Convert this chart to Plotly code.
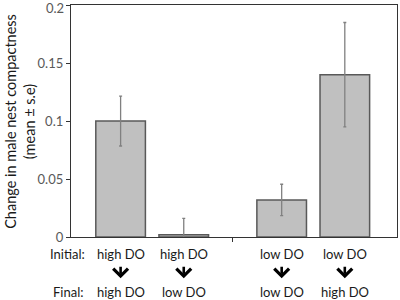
import plotly.graph_objects as go

# data
initial_labels = ["high DO", "high DO", "low DO", "low DO"]
final_labels = ["high DO", "low DO", "low DO", "high DO"]
means = [0.100, 0.002, 0.032, 0.140]
errors = [0.0215, 0.014, 0.0135, 0.045]
positions = [0.77, 1.75, 3.27, 4.25]   # group gap between 2nd and 3rd bar
gap_tick = [2.51]
y_ticks = [0, 0.05, 0.1, 0.15, 0.2]
y_ticktext = ["0", "0.05", "0.1", "0.15", "0.2"]

fig = go.Figure()
fig.add_trace(go.Bar(
    x=positions, y=means, width=0.77,
    marker=dict(color="#c0c0c0", line=dict(color="#595959", width=1.5)),
    error_y=dict(type="data", array=errors, visible=True, color="#808080",
                 thickness=1.3, width=1.5),
    hoverinfo="skip",
))

font_main = "Lato, 'Open Sans', sans-serif"
fs = 13
ann = []
for xp, a, b in zip(positions, initial_labels, final_labels):
    ann.append(dict(x=xp, y=-0.073, xref="x", yref="paper", text=a, showarrow=False,
                    xanchor="center", yanchor="middle",
                    font=dict(size=fs, color="#1a1a1a", family=font_main)))
    ann.append(dict(x=xp, y=-0.178, xref="x", yref="paper", text="", showarrow=True,
                    ax=0, ay=-13, arrowhead=4, arrowsize=1.1, arrowwidth=2.6,
                    arrowcolor="#000000", standoff=0))
    ann.append(dict(x=xp, y=-0.237, xref="x", yref="paper", text=b, showarrow=False,
                    xanchor="center", yanchor="middle",
                    font=dict(size=fs, color="#1a1a1a", family=font_main)))
ann.append(dict(x=-0.012, y=-0.073, xref="paper", yref="paper", text="Initial:", showarrow=False,
                xanchor="center", yanchor="middle",
                font=dict(size=fs, color="#1a1a1a", family=font_main)))
ann.append(dict(x=-0.01, y=-0.237, xref="paper", yref="paper", text="Final:", showarrow=False,
                xanchor="center", yanchor="middle",
                font=dict(size=fs, color="#1a1a1a", family=font_main)))
ann.append(dict(x=-0.157, y=0.5, xref="paper", yref="paper",
                text="Change in male nest compactness<br>(mean ± s.e)",
                textangle=-90, showarrow=False, xanchor="center", yanchor="middle",
                font=dict(size=14.5, color="#1a1a1a", family=font_main)))
# top tick label (drawn as annotation so it is not dropped at the figure edge)
ann.append(dict(x=0, y=y_ticks[-1], xref="paper", yref="y", text=y_ticktext[-1],
                showarrow=False, xanchor="right", yanchor="middle", xshift=-6, yshift=-3,
                borderpad=0,
                font=dict(size=fs, color="#595959", family=font_main)))

fig.update_layout(
    width=400, height=300,
    margin=dict(l=71, r=3, t=5, b=63),
    paper_bgcolor="white", plot_bgcolor="white",
    showlegend=False,
    annotations=ann,
    xaxis=dict(range=[0, 5.06], showgrid=False, zeroline=False,
               showline=True, linecolor="#333333", linewidth=1.3, mirror=True,
               tickvals=gap_tick, ticks="outside", ticklen=4, tickcolor="#333333",
               showticklabels=False),
    yaxis=dict(range=[0, 0.2001], tickvals=y_ticks,
               ticktext=y_ticktext[:-1] + [""],
               showgrid=False, zeroline=False,
               showline=True, linecolor="#333333", linewidth=1.3, mirror=True,
               ticks="outside", ticklen=4, tickcolor="#333333",
               tickfont=dict(size=fs, color="#595959", family=font_main)),
)

fig.write_html("out.html", config={"displayModeBar": False},
               post_script="document.body.style.margin='0';")
